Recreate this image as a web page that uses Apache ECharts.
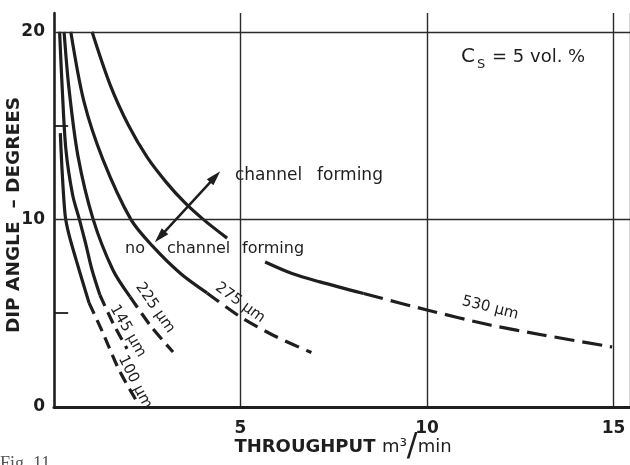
<!DOCTYPE html>
<html><head><meta charset="utf-8">
<script src="https://cdn.jsdelivr.net/npm/echarts@6/dist/echarts.min.js"></script>
<style>html,body{margin:0;padding:0;background:#fff}#c{width:630px;height:465px}</style>
</head><body><div id="c"></div>
<script>
// ---- data ----
const curveNames = ['100 µm', '145 µm', '225 µm', '275 µm', '530 µm'];
const c100Solid  = [[0.17,14.6],[0.22,12.5],[0.3,10.2],[0.4,9.2],[0.6,7.8],[0.78,6.6],[0.94,5.55]];
const c100Dashed = [[0.94,5.55],[1.3,4.0],[1.75,1.95],[2.25,0.2]];
const c145Solid  = [[0.15,20],[0.22,17],[0.32,13.7],[0.5,11.3],[0.68,10],[0.85,8.7],[1.02,7.3],[1.23,5.97]];
const c145Dashed = [[1.23,5.97],[1.6,4.4],[1.96,3.1]];
const c225Solid  = [[0.27,20],[0.4,17],[0.64,13.4],[1.05,10],[1.58,7.3],[2.04,5.87]];
const c225Dashed = [[2.04,5.87],[2.6,4.3],[3.19,2.93]];
const c275Solid  = [[0.45,20],[0.8,16.3],[1.31,13.2],[2.06,10],[2.63,8.6],[3.4,7.1],[4.1,6.08]];
const c275Dashed = [[4.1,6.08],[5.0,4.8],[5.9,3.8],[6.9,2.9]];
const c530Solid1 = [[1.02,20],[1.5,17.2],[2.0,15.0],[2.5,13.3],[3.0,12.0],[3.5,10.9],[4.0,10.0],[4.64,9.0]];
const c530Solid2 = [[5.66,7.73],[6.4,7.1],[7.13,6.67],[8.3,6.05]];
const c530Dashed = [[8.3,6.05],[10,5.17],[11.69,4.37],[13.1,3.84],[14.96,3.2]];
const xTickValues = [5, 10, 15];
const yTickValues = [0, 10, 20];
const yGridValues = [10, 20];
const yMinorTicks = [5, 15];
const arrowEnds = [[2.84, 9.07], [4.32, 12.27]];
// label anchor points (data units) and their angles
const labelAnchors = [[2.17,1.33],[1.98,4.05],[2.71,5.28],[4.99,5.55],[11.69,5.28]];
const labelAngles = [-63, -60, -55, -36, -14];

const FONT = 'DejaVu Sans';
const INK = '#1e1e1e';

function curve(data, dash) {
  return {
    type: 'line', data: data, showSymbol: false, smooth: 0.3, silent: true, z: 3,
    lineStyle: { color: INK, width: 3.2, type: dash || 'solid', cap: 'butt' }
  };
}
function txt(x, y, s, size, extra) {
  return Object.assign({ type: 'text', x: x, y: y,
    style: { text: s, fill: INK, font: size + 'px "DejaVu Sans"', textVerticalAlign: 'middle' } }, extra || {});
}

const chart = echarts.init(document.getElementById('c'), null, { renderer: 'canvas' });
chart.setOption({
  animation: false,
  backgroundColor: '#fff',
  grid: { left: 54, right: 0, top: 13, bottom: 58, containLabel: false },
  xAxis: {
    type: 'value', min: 0, max: 15.44, interval: 5,
    axisLine: { lineStyle: { color: INK, width: 3 } },
    axisTick: { show: false },
    axisLabel: {
      customValues: xTickValues, margin: 13, color: INK,
      fontFamily: FONT, fontWeight: 'bold', fontSize: 17
    },
    splitLine: { show: true, lineStyle: { color: '#2a2a2a', width: 1.4 } }
  },
  yAxis: {
    type: 'value', min: 0, max: 21, interval: 5,
    axisLine: { show: true, lineStyle: { color: INK, width: 2.5 } },
    axisTick: { show: false },
    axisLabel: {
      customValues: yTickValues, margin: 9, color: INK,
      fontFamily: FONT, fontWeight: 'bold', fontSize: 17
    },
    splitLine: { show: false }
  },
  series: [
    {
      type: 'line', data: [], silent: true,
      markLine: {
        silent: true, symbol: 'none', label: { show: false }, animation: false,
        lineStyle: { color: '#2a2a2a', width: 1.4, type: 'solid' },
        data: yGridValues.map(v => ({ yAxis: v }))
          .concat(yMinorTicks.map(v => [{ coord: [0, v], lineStyle: { width: 1.8, color: INK } }, { coord: [0.38, v] }]))
      }
    },
    {
      type: 'line', data: [], silent: true,
      markLine: {
        silent: true, symbol: ['triangle', 'triangle'], symbolSize: [9, 15],
        label: { show: false }, animation: false,
        lineStyle: { color: INK, width: 2.5, type: 'solid' },
        data: [[{ coord: arrowEnds[0] }, { coord: arrowEnds[1] }]]
      }
    },
    curve(c100Solid), curve(c100Dashed, [12, 7]),
    curve(c145Solid), curve(c145Dashed, [12, 7]),
    curve(c225Solid), curve(c225Dashed, [13, 7]),
    curve(c275Solid), curve(c275Dashed, [15, 8]),
    curve(c530Solid1), curve(c530Solid2), curve(c530Dashed, [20, 8]),
    {
      type: 'scatter', symbolSize: 0, silent: true, z: 5,
      itemStyle: { opacity: 1, color: INK },
      data: curveNames.map((n, i) => ({ name: n, value: labelAnchors[i], label: { rotate: labelAngles[i] } })),
      label: { show: true, position: 'inside', formatter: '{b}', color: INK, opacity: 1,
        textBorderWidth: 0, fontFamily: FONT, fontSize: 15 }
    }
  ],
  graphic: [
    { type: 'text', x: 14, y: 215, rotation: Math.PI / 2,
      style: { text: 'DIP ANGLE  – DEGREES', fill: INK, font: 'bold 18.5px "DejaVu Sans"', textAlign: 'center', textVerticalAlign: 'middle' } },
    { type: 'text', x: 343, y: 447,
      style: { text: '{a|THROUGHPUT}  {b|m³}{s|/}{b|min}', fill: INK, textAlign: 'center', textVerticalAlign: 'middle',
        rich: {
          a: { fontFamily: FONT, fontWeight: 'bold', fontSize: 18, fill: INK },
          b: { fontFamily: FONT, fontSize: 18, fill: INK },
          s: { fontFamily: FONT, fontSize: 32, fill: INK }
        } } },
    txt(461, 57, 'C', 20),
    txt(477, 65, 'S', 13),
    txt(492, 57, '= 5 vol. %', 18),
    txt(235, 176, 'channel', 17),
    txt(317, 176, 'forming', 17),
    txt(125, 249, 'no', 16),
    txt(167, 249, 'channel', 16),
    txt(242, 249, 'forming', 16),
    { type: 'text', x: 0, y: 464, style: { text: 'Fig. 11', fill: '#555', font: '18px "Liberation Serif"', textVerticalAlign: 'middle' } }
  ]
});
</script></body></html>
